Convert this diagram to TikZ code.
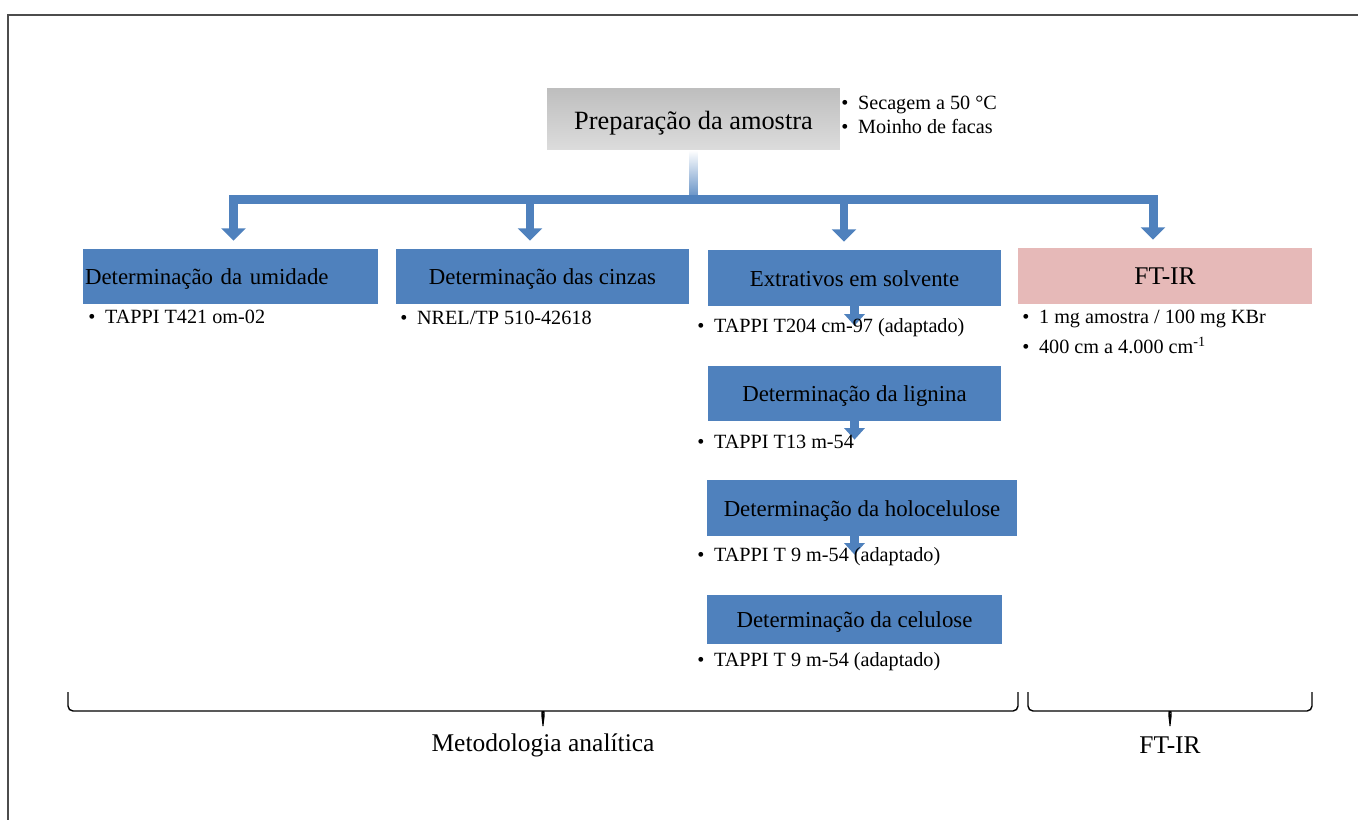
\documentclass[tikz,border=0pt]{standalone}
\usepackage{fontspec}
\setmainfont{Liberation Serif}
\usetikzlibrary{arrows.meta, calc}
\definecolor{boxblue}{HTML}{4F81BD}
\definecolor{boxpink}{HTML}{E6B9B8}
\definecolor{boxgrayA}{HTML}{BEBEBE}
\definecolor{boxgrayB}{HTML}{DCDCDC}

\begin{document}
\begin{tikzpicture}[x=0.02cm, y=-0.02cm]
    % Styles
    \tikzstyle{sample} = [rectangle, top color=boxgrayA, bottom color=boxgrayB, minimum width=5.86cm, minimum height=1.24cm, text height=13pt, text depth=1pt, align=center, font=\fontsize{15}{18}\selectfont]
    \tikzstyle{method} = [rectangle, fill=boxblue, minimum width=5.86cm, minimum height=1.1cm, inner sep=1pt, text height=11pt, text depth=1.5pt, align=center, font=\fontsize{13}{15}\selectfont]
    \tikzstyle{bulletlist} = [anchor=west, align=left, inner sep=0pt, font=\fontsize{11.5}{13.6}\selectfont]
    \tikzstyle{flow} = [-{Triangle[width=13.6pt, length=7pt]}, line width=5.1pt, boxblue, shorten >=0.16cm]
    \tikzstyle{substep} = [-{Triangle[width=11.3pt, length=6.5pt]}, line width=5.4pt, boxblue, shorten >=0.8cm]
    \tikzstyle{groupbrace} = [line width=0.8pt, rounded corners=0.1cm]
    \tikzstyle{grouplabel} = [font=\fontsize{14.5}{17}\selectfont]

    \useasboundingbox (0,0) rectangle (1358,820);
    \draw[line width=0.8pt, black!70] (8,820) -- (8,15) -- (1358,15);

    % Nodes
    \node[sample] (prep) at (693.5,119) {Preparação da amostra};
    \node[bulletlist] (prepnote) at (841,115) {\textbullet\hspace{5.5pt}Secagem a 50 °C\\\textbullet\hspace{5.5pt}Moinho de facas};

    \node[method, text width=5.82cm, align=left] (umid) at (230.5,276.5) {Determinação da umidade};
    \node[method] (cinz) at (542.5,276.5) {Determinação das cinzas};
    \node[method, minimum height=1.12cm] (extr) at (854.5,278) {Extrativos em solvente};
    \node[method, fill=boxpink, minimum width=5.88cm, minimum height=1.12cm, font=\fontsize{14.5}{17}\selectfont] (ftir) at (1165,276) {FT-IR};
    \node[method] (lign) at (854.5,393.5) {Determinação da lignina};
    \node[method, minimum width=6.2cm, minimum height=1.12cm] (holo) at (862,508) {Determinação da holocelulose};
    \node[method, minimum width=5.9cm, minimum height=0.98cm] (celu) at (854.5,619.5) {Determinação da celulose};

    % Arrows
    \coordinate (bus) at (693.5,199.5);
    \shade[top color=white, bottom color=boxblue] ($(prep.south)+(-4,0)$) rectangle ($(bus)+(4,4.5)$);
    \draw[flow] (bus) -| ([xshift=0.06cm]umid.north);
    \draw[flow] (bus) -| ([xshift=-0.25cm]cinz.north);
    \draw[flow] (bus) -| ([xshift=-0.21cm]extr.north);
    \draw[flow] (bus) -| ([xshift=-0.24cm]ftir.north);

    \draw[substep] (extr.south) -- (extr.south |- lign.north);
    \draw[substep] (lign.south) -- (lign.south |- holo.north);
    \draw[substep] (celu.north |- holo.south) -- (celu.north);

    % References
    \node[bulletlist] (umidref) at (88,317) {\textbullet\hspace{5.5pt}TAPPI T421 om-02};
    \node[bulletlist] (cinzref) at (400,318) {\textbullet\hspace{5.5pt}NREL/TP 510-42618};
    \node[bulletlist] (extrref) at (697,328) {\textbullet\hspace{5.5pt}TAPPI T204 cm-97 (adaptado)};
    \node[bulletlist] (lignref) at (697,442) {\textbullet\hspace{5.5pt}TAPPI T13 m-54};
    \node[bulletlist] (holoref) at (697,557) {\textbullet\hspace{5.5pt}TAPPI T 9 m-54 (adaptado)};
    \node[bulletlist] (celuref) at (697,662) {\textbullet\hspace{5.5pt}TAPPI T 9 m-54 (adaptado)};
    \node[bulletlist, font=\fontsize{11.5}{17.5}\selectfont] (ftirref) at (1022,332) {\textbullet\hspace{5.5pt}1 mg amostra / 100 mg KBr\\\textbullet\hspace{5.5pt}400 cm a 4.000 cm\textsuperscript{-1}};

    % Braces
    \draw[groupbrace] (68,692) |- (538,711) to[out=0,in=90] (543,729) to[out=90,in=180] (548,711) -| (1018,692);
    \node[grouplabel] (methlabel) at (543,745) {Metodologia analítica};
    \draw[groupbrace] (1028,692) |- (1165,711) to[out=0,in=90] (1170,729) to[out=90,in=180] (1175,711) -| (1312,692);
    \node[grouplabel] (ftirlabel) at (1170,745) {FT-IR};
\end{tikzpicture}
\end{document}
